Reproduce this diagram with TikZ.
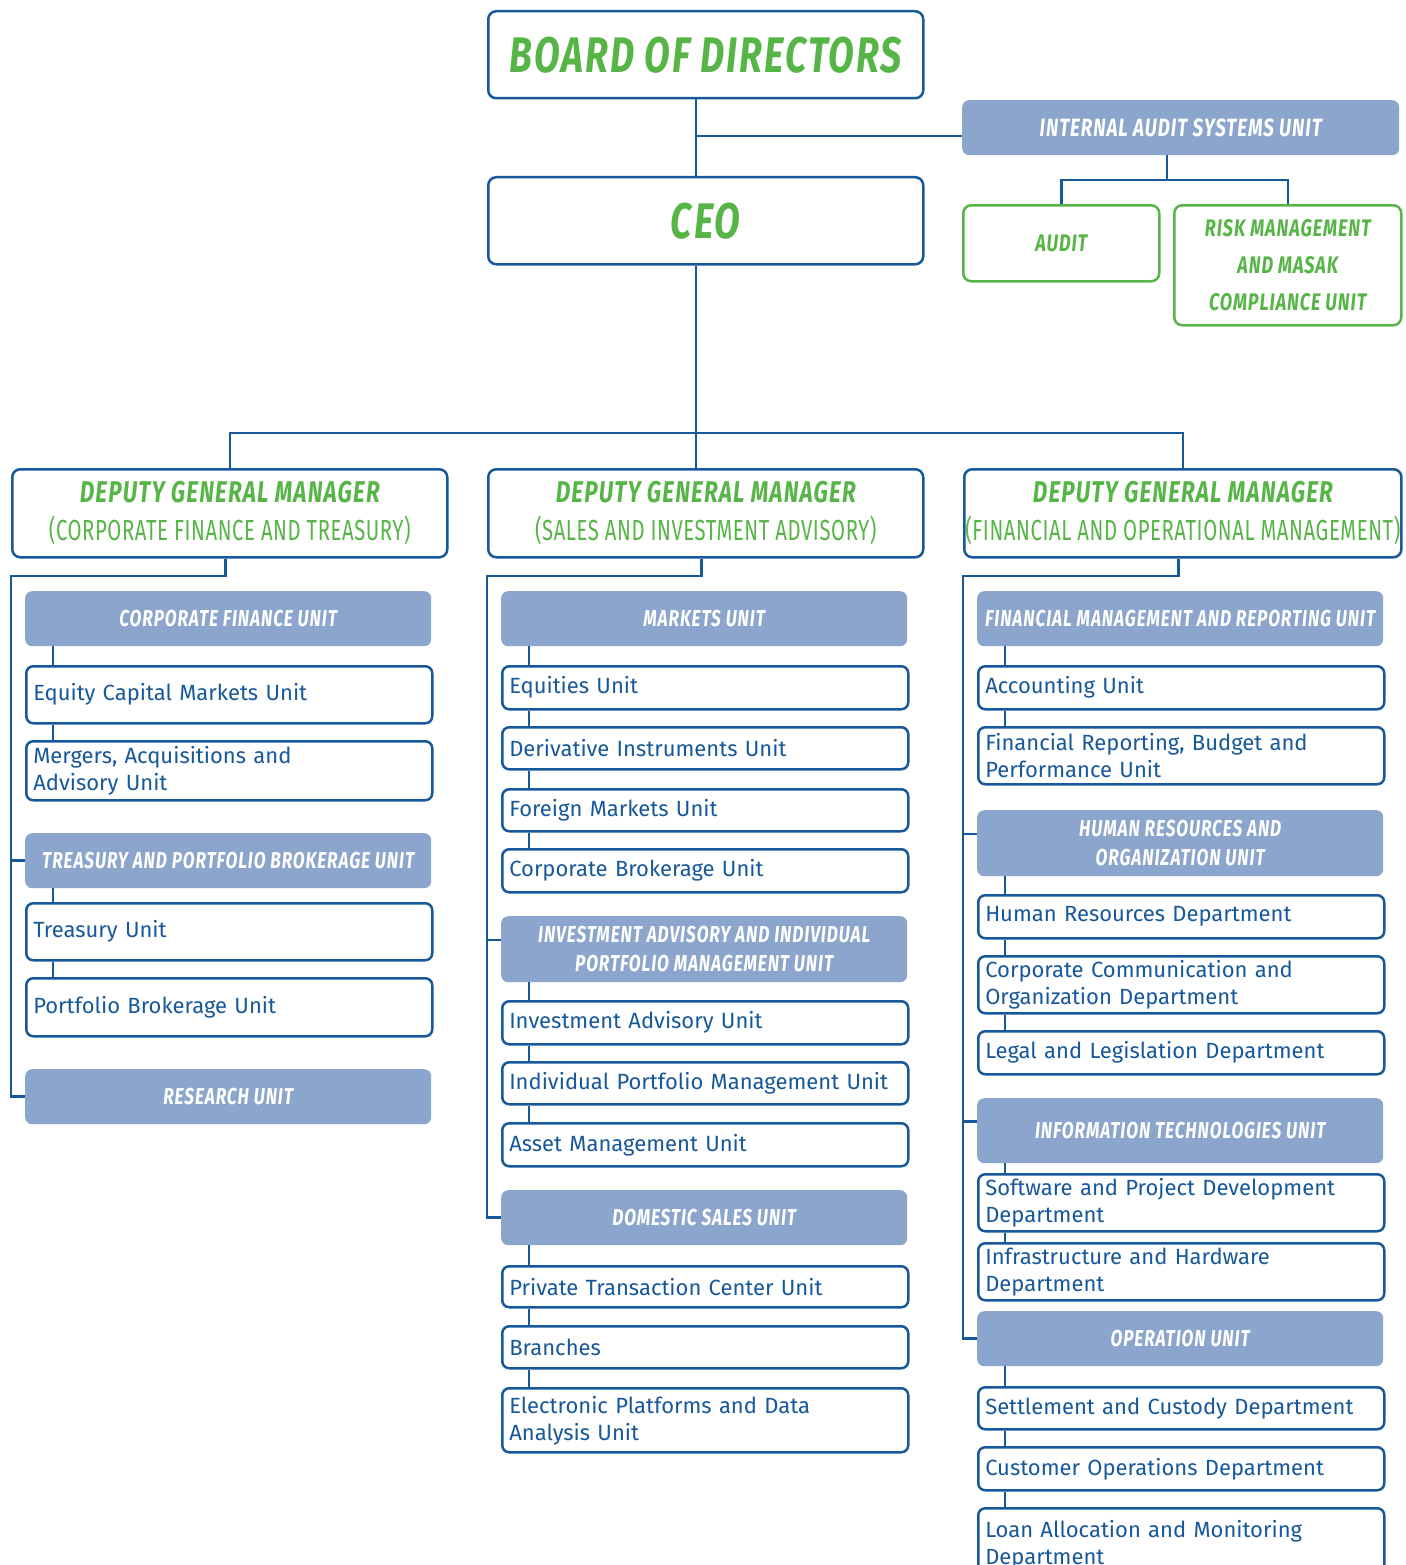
\documentclass[tikz,border=0pt]{standalone}
\usepackage{fontspec}
\setmainfont{Fira Sans}
\newfontfamily\headfont[FakeStretch=0.75,LetterSpace=4]{Fira Sans}
\newfontfamily\subfont[FakeStretch=0.70,LetterSpace=2]{Fira Sans}
\usetikzlibrary{calc}

\definecolor{linkblue}{RGB}{22,88,153}
\definecolor{unitfill}{RGB}{139,165,204}
\definecolor{boardgreen}{RGB}{87,181,72}

\newcommand{\headtype}{\headfont\bfseries\itshape}

\tikzset{
  wire/.style={draw=linkblue, line width=2.5pt},
  chiefbox/.style={draw=linkblue, line width=2.5pt, rounded corners=8pt, fill=white, anchor=north west,
    minimum width=435pt, minimum height=87pt, text=boardgreen, font={\headtype\fontsize{50}{60}\selectfont}},
  dgmbox/.style={draw=linkblue, line width=2.5pt, rounded corners=8pt, fill=white, anchor=north west,
    minimum width=435pt, minimum height=88pt, inner xsep=1pt, align=center, text=boardgreen, font=\headfont},
  auditbox/.style={draw=boardgreen, line width=2.5pt, rounded corners=8pt, fill=white, anchor=north west,
    align=center, text=boardgreen, font={\headtype\fontsize{24}{37}\selectfont}},
  headbox/.style={fill=unitfill, rounded corners=7pt, anchor=north west, minimum width=406pt,
    minimum height=55pt, inner sep=2pt, align=center, text=white, font={\headtype\fontsize{23}{29}\selectfont}},
  unitbox/.style={draw=linkblue, line width=2.5pt, rounded corners=7pt, fill=white, anchor=north west,
    text width=392pt, inner xsep=7pt, inner ysep=2pt, align=left, text=linkblue,
    font={\fontsize{22}{27}\selectfont}}
}

\newcommand{\dgmtitle}[1]{{\headtype\fontsize{30}{38}\selectfont DEPUTY GENERAL MANAGER}\\[12pt]{\subfont\fontsize{29}{38}\selectfont #1}}

\begin{document}
\begin{tikzpicture}[x=1pt,y=-1pt]
    \useasboundingbox (0,0) rectangle (1405,1565);

    % board, ceo and audit
    \node[chiefbox] (board) at (487,10) {BOARD OF DIRECTORS};
    \node[chiefbox] (ceo) at (487,176) {CEO};
    \node[headbox, minimum width=437, font={\headtype\fontsize{25}{30}\selectfont}] (ia) at (962,100) {INTERNAL AUDIT SYSTEMS UNIT};
    \node[auditbox, minimum width=196, minimum height=76] (audit) at (962,204) {AUDIT};
    \node[auditbox, minimum width=227, minimum height=120] (risk) at (1173,204) {RISK MANAGEMENT\\AND MASAK\\COMPLIANCE UNIT};

    \coordinate (bj) at (696,136);
    \coordinate (cj) at (696,433);
    \coordinate (iaj) at (1167,180);

    % deputy general managers
    \node[dgmbox] (dgm1) at (11,468) {\dgmtitle{(CORPORATE FINANCE AND TREASURY)}};
    \node[dgmbox] (dgm2) at (487,468) {\dgmtitle{(SALES AND INVESTMENT ADVISORY)}};
    \node[dgmbox, minimum width=436] (dgm3) at (963,468) {\dgmtitle{(FINANCIAL AND OPERATIONAL MANAGEMENT)}};

    % corporate finance and treasury
    \node[headbox] (cfu) at (25,591) {CORPORATE FINANCE UNIT};
    \node[unitbox, minimum height=57] (ecm) at (25,665) {Equity Capital Markets Unit};
    \node[unitbox, minimum height=59] (mer) at (25,740) {Mergers, Acquisitions and\\Advisory Unit};
    \node[headbox] (tpb) at (25,833) {TREASURY AND PORTFOLIO BROKERAGE UNIT};
    \node[unitbox, minimum height=57] (tre) at (25,902) {Treasury Unit};
    \node[unitbox, minimum height=58] (pbu) at (25,977) {Portfolio Brokerage Unit};
    \node[headbox] (res) at (25,1069) {RESEARCH UNIT};

    % sales and investment advisory
    \node[headbox] (mku) at (501,591) {MARKETS UNIT};
    \node[unitbox, minimum height=43] (equ) at (501,665) {Equities Unit};
    \node[unitbox, minimum height=42] (der) at (501,726) {Derivative Instruments Unit};
    \node[unitbox, minimum height=42] (frm) at (501,788) {Foreign Markets Unit};
    \node[unitbox, minimum height=43] (cbr) at (501,848) {Corporate Brokerage Unit};
    \node[headbox, minimum height=66] (iap) at (501,916) {INVESTMENT ADVISORY AND INDIVIDUAL\\PORTFOLIO MANAGEMENT UNIT};
    \node[unitbox, minimum height=43] (iau) at (501,1000) {Investment Advisory Unit};
    \node[unitbox, minimum height=42] (ipm) at (501,1061) {Individual Portfolio Management Unit};
    \node[unitbox, minimum height=43] (asm) at (501,1122) {Asset Management Unit};
    \node[headbox] (dsu) at (501,1190) {DOMESTIC SALES UNIT};
    \node[unitbox, minimum height=41] (ptc) at (501,1265) {Private Transaction Center Unit};
    \node[unitbox, minimum height=42] (bra) at (501,1325) {Branches};
    \node[unitbox, minimum height=64] (epd) at (501,1387) {Electronic Platforms and Data\\Analysis Unit};

    % financial and operational management
    \node[headbox] (fmr) at (977,591) {FINANCIAL MANAGEMENT AND REPORTING UNIT};
    \node[unitbox, minimum height=43] (acc) at (977,665) {Accounting Unit};
    \node[unitbox, minimum height=57] (frb) at (977,726) {Financial Reporting, Budget and\\Performance Unit};
    \node[headbox, minimum height=66] (hro) at (977,810) {HUMAN RESOURCES AND\\ORGANIZATION UNIT};
    \node[unitbox, minimum height=43] (hrd) at (977,894) {Human Resources Department};
    \node[unitbox, minimum height=57] (ccd) at (977,955) {Corporate Communication and\\Organization Department};
    \node[unitbox, minimum height=43] (leg) at (977,1030) {Legal and Legislation Department};
    \node[headbox, minimum height=65] (itu) at (977,1098) {INFORMATION TECHNOLOGIES UNIT};
    \node[unitbox, minimum height=57] (spd) at (977,1173) {Software and Project Development\\Department};
    \node[unitbox, minimum height=57] (ihd) at (977,1242) {Infrastructure and Hardware\\Department};
    \node[headbox] (opu) at (977,1311) {OPERATION UNIT};
    \node[unitbox, minimum height=42] (scd) at (977,1386) {Settlement and Custody Department};
    \node[unitbox, minimum height=43] (cod) at (977,1446) {Customer Operations Department};
    \node[unitbox, minimum height=72] (lam) at (977,1507) {Loan Allocation and Monitoring\\Department};

    \coordinate (c1) at (11,576);
    \coordinate (c2) at (487,576);
    \coordinate (c3) at (963,576);

    % upper links
    \draw[wire] (board.south -| bj) -- (ceo.north -| bj);
    \draw[wire] (bj) -- (ia.west |- bj);
    \draw[wire] (ia.south -| iaj) -- (iaj);
    \draw[wire] (audit.north) |- (iaj) -| (risk.north);
    \draw[wire] (ceo.south -| cj) -- (dgm2.north -| cj);
    \draw[wire] (dgm1.north) |- (cj) -| (dgm3.north);

    % column spines
    \draw[wire] ([xshift=-4.5pt]dgm1.south) |- (c1) |- (res.west);
    \draw[wire] ([xshift=-4.5pt]dgm2.south) |- (c2) |- (dsu.west);
    \draw[wire] ([xshift=-4.5pt]dgm3.south) |- (c3) |- (opu.west);
    \draw[wire] (tpb.west) -- (c1 |- tpb.west);
    \draw[wire] ([yshift=9pt]iap.west) -- ++(-14,0);
    \draw[wire] ([yshift=9pt]hro.west) -- ++(-14,0);
    \draw[wire] ([yshift=9pt]itu.west) -- ++(-14,0);

    \foreach \a/\b in {cfu/ecm,ecm/mer,tpb/tre,tre/pbu,
                       mku/equ,equ/der,der/frm,frm/cbr,iap/iau,iau/ipm,ipm/asm,dsu/ptc,ptc/bra,bra/epd,
                       fmr/acc,acc/frb,hro/hrd,hrd/ccd,ccd/leg,itu/spd,spd/ihd,opu/scd,scd/cod,cod/lam}
        \draw[wire] ([xshift=28pt]\a.south west) -- ([xshift=28pt]\b.north west);
\end{tikzpicture}
\end{document}
